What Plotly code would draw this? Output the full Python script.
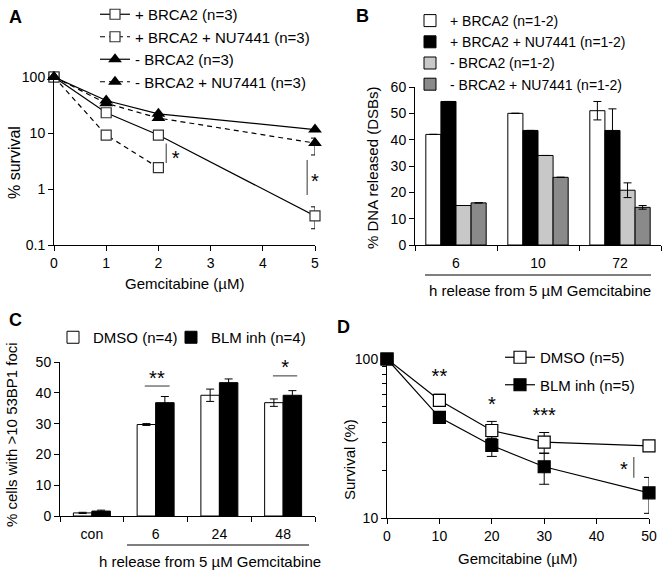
import plotly.graph_objects as go

W, H = 668, 575
def PX(x): return x / W
def PY(y): return 1 - y / H

FONT = "Liberation Sans, Arial, sans-serif"

# ---------------- Panel A data ----------------
a_dose = [0, 1, 2, 5]
a_dose_nu = [0, 1, 2]
a_brca = [100, 23, 9.2, 0.33]
a_brca_ep = [0, 0, 0, 0.15]
a_brca_em = [0, 0, 0, 0.135]
a_brca_nu = [100, 9.2, 2.4]
a_nobrca = [100, 38, 22, 11.5]
a_nobrca_nu = [100, 34, 18.5, 6.6]
a_nobrca_nu_ep = [0, 0, 0, 1.5]
a_nobrca_nu_em = [0, 0, 0, 2.55]
a_names = ["+ BRCA2 (n=3)", "+ BRCA2 + NU7441 (n=3)", "- BRCA2 (n=3)", "- BRCA2 + NU7441 (n=3)"]

# ---------------- Panel B data ----------------
b_cats = ["6", "10", "72"]
b_names = ["+ BRCA2 (n=1-2)", "+ BRCA2 + NU7441 (n=1-2)", "- BRCA2 (n=1-2)", "- BRCA2 + NU7441 (n=1-2)"]
b_vals = [[42, 50, 51], [54.5, 43.5, 43.5], [15, 34, 20.8], [16, 25.7, 14.3]]
b_errs = [[None, None, 3.5], [None, None, 8.2], [None, None, 2.8], [None, None, 0.7]]
b_colors = ["#ffffff", "#000000", "#c8c8c8", "#8a8a8a"]

# ---------------- Panel C data ----------------
c_cats = ["con", "6", "24", "48"]
c_dmso = [1.0, 29.7, 39.2, 36.8]
c_dmso_err = [0.2, 0.3, 2.0, 1.2]
c_blm = [1.6, 36.8, 43.3, 39.2]
c_blm_err = [0.3, 2.0, 1.2, 1.5]
c_names = ["DMSO (n=4)", "BLM inh (n=4)"]

# ---------------- Panel D data ----------------
d_dose = [0, 10, 20, 30, 50]
d_dmso = [100, 55, 35.5, 30, 28.4]
d_dmso_ep = [0, 5, 5, 4.5, 0.8]
d_dmso_em = [0, 4, 4, 4.5, 0.8]
d_blm = [100, 43, 28.6, 21, 14.4]
d_blm_ep = [0, 3, 3.2, 4.6, 3.6]
d_blm_em = [0, 3.5, 4.2, 4.7, 3.7]
d_names = ["DMSO (n=5)", "BLM inh (n=5)"]

fig = go.Figure()

def err(p, m, w=4):
    return dict(type="data", array=p, arrayminus=m, visible=True, color="black", thickness=1, width=w)

# ---- A traces ----
fig.add_trace(go.Scatter(x=a_dose, y=a_brca, name=a_names[0], mode="lines+markers",
    line=dict(color="black", width=1.2),
    marker=dict(symbol="square", size=10, color="white", line=dict(color="#333", width=1.2)),
    error_y=err(a_brca_ep, a_brca_em), cliponaxis=False, legend="legend", xaxis="x", yaxis="y"))
fig.add_trace(go.Scatter(x=a_dose_nu, y=a_brca_nu, name=a_names[1], mode="lines+markers",
    line=dict(color="black", width=1.2, dash="5px,4px"),
    marker=dict(symbol="square", size=10, color="white", line=dict(color="#333", width=1.2)),
    cliponaxis=False, legend="legend", xaxis="x", yaxis="y"))
fig.add_trace(go.Scatter(x=a_dose, y=a_nobrca, name=a_names[2], mode="lines+markers",
    line=dict(color="black", width=1.2),
    marker=dict(symbol="triangle-up", size=12, color="black"),
    cliponaxis=False, legend="legend", xaxis="x", yaxis="y"))
fig.add_trace(go.Scatter(x=a_dose, y=a_nobrca_nu, name=a_names[3], mode="lines+markers",
    line=dict(color="black", width=1.2, dash="5px,4px"),
    marker=dict(symbol="triangle-up", size=12, color="black"),
    error_y=err(a_nobrca_nu_ep, a_nobrca_nu_em), cliponaxis=False, legend="legend", xaxis="x", yaxis="y"))
# significance A
a_sig_x = [2.15, 2.15]
a_sig_y = [6.5, 2.9]
a_sig2_x = [4.85, 4.85]
a_sig2_y = [3.3, 0.78]
fig.add_trace(go.Scatter(x=a_sig_x, y=a_sig_y, mode="lines", line=dict(color="#555", width=1.2),
    showlegend=False, hoverinfo="skip", xaxis="x", yaxis="y"))
fig.add_trace(go.Scatter(x=a_sig2_x, y=a_sig2_y, mode="lines", line=dict(color="#555", width=1.2),
    showlegend=False, hoverinfo="skip", xaxis="x", yaxis="y"))
fig.add_trace(go.Scatter(x=[2.33, 5.0], y=[3.3, 1.3], mode="text", text=["*", "*"],
    textfont=dict(size=20, color="black", family=FONT), showlegend=False, hoverinfo="skip",
    cliponaxis=False, xaxis="x", yaxis="y"))

# ---- B traces ----
bw = 0.184
b_x = [0, 1, 2]
for i in range(4):
    fig.add_trace(go.Bar(x=b_x, y=b_vals[i], name=b_names[i], width=bw, offset=(i - 2) * bw,
        marker=dict(color=b_colors[i], line=dict(color="black", width=1)),
        error_y=dict(type="data", array=b_errs[i], visible=True, color="black", thickness=1, width=4),
        legend="legend2", xaxis="x2", yaxis="y2"))

# ---- C traces ----
cw = 0.29
c_x = [0, 1, 2, 3]
fig.add_trace(go.Bar(x=c_x, y=c_dmso, name=c_names[0], width=cw, offset=-cw,
    marker=dict(color="white", line=dict(color="black", width=1)),
    error_y=dict(type="data", array=c_dmso_err, visible=True, color="black", thickness=1, width=4),
    legend="legend3", xaxis="x3", yaxis="y3"))
fig.add_trace(go.Bar(x=c_x, y=c_blm, name=c_names[1], width=cw, offset=0,
    marker=dict(color="black", line=dict(color="black", width=1)),
    error_y=dict(type="data", array=c_blm_err, visible=True, color="black", thickness=1, width=4),
    legend="legend5", xaxis="x3", yaxis="y3"))
c_sig_lines = [([0.83, 1.22], [42.2, 42.2]), ([2.84, 3.22], [45.5, 45.5])]
for xs, ys in c_sig_lines:
    fig.add_trace(go.Scatter(x=xs, y=ys, mode="lines", line=dict(color="#555", width=1.2),
        showlegend=False, hoverinfo="skip", xaxis="x3", yaxis="y3"))
fig.add_trace(go.Scatter(x=[1.02, 3.03], y=[44.2, 47.8], mode="text", text=["**", "*"],
    textfont=dict(size=20, color="black", family=FONT), showlegend=False, hoverinfo="skip",
    cliponaxis=False, xaxis="x3", yaxis="y3"))

# ---- D traces ----
fig.add_trace(go.Scatter(x=d_dose, y=d_dmso, name=d_names[0], mode="lines+markers",
    line=dict(color="black", width=1.2),
    marker=dict(symbol="square", size=12, color="white", line=dict(color="black", width=1.2)),
    error_y=err(d_dmso_ep, d_dmso_em, 5), cliponaxis=False, legend="legend4", legendgroup="g1",
    xaxis="x4", yaxis="y4"))
fig.add_trace(go.Scatter(x=d_dose, y=d_blm, name=d_names[1], mode="lines+markers",
    line=dict(color="black", width=1.2),
    marker=dict(symbol="square", size=12, color="black", line=dict(color="black", width=1.2)),
    error_y=err(d_blm_ep, d_blm_em, 5), cliponaxis=False, legend="legend4", legendgroup="g2",
    xaxis="x4", yaxis="y4"))
fig.add_trace(go.Scatter(x=[47.1, 47.1], y=[24.2, 17.9], mode="lines", line=dict(color="#555", width=1.2),
    showlegend=False, hoverinfo="skip", xaxis="x4", yaxis="y4"))
fig.add_trace(go.Scatter(x=[10, 20, 30, 45.2], y=[76, 51, 43, 19.8], mode="text",
    text=["**", "*", "***", "*"],
    textfont=dict(size=20, color="black", family=FONT), showlegend=False, hoverinfo="skip",
    cliponaxis=False, xaxis="x4", yaxis="y4"))

# ---------------- layout ----------------
tickfont = dict(size=14, color="black", family=FONT)
base = dict(showline=True, linecolor="black", linewidth=1, ticks="outside", ticklen=5,
            tickcolor="black", showgrid=False, zeroline=False, tickfont=tickfont)

def minor_bounds(vals):
    return dict(tickvals=vals, ticks="outside", ticklen=5, tickcolor="black", showgrid=False)

layout = dict(
    width=W, height=H, margin=dict(l=0, r=0, t=0, b=0, autoexpand=False),
    paper_bgcolor="white", plot_bgcolor="white",
    font=dict(family=FONT, size=15, color="black"),
    barmode="overlay", showlegend=True,
    xaxis=dict(base, domain=[PX(54), PX(315)], range=[0, 5], tickvals=[0, 1, 2, 3, 4, 5], anchor="y"),
    yaxis=dict(base, domain=[PY(245), PY(77)], type="log", range=[-1, 2],
               tickvals=[0.1, 1, 10, 100], ticktext=["0.1", "1", "10", "100"], anchor="x"),
    xaxis2=dict(base, domain=[PX(415), PX(661)], range=[-0.5, 2.5], tickvals=b_x, ticktext=b_cats,
                tickcolor="rgba(0,0,0,0)", minor=minor_bounds([-0.5, 0.5, 1.5, 2.5]), anchor="y2"),
    yaxis2=dict(base, domain=[PY(245), PY(87)], range=[0, 60], dtick=10, anchor="x2"),
    xaxis3=dict(base, domain=[PX(60), PX(315)], range=[-0.5, 3.5], tickvals=c_x, ticktext=c_cats,
                tickcolor="rgba(0,0,0,0)", minor=minor_bounds([-0.5, 0.5, 1.5, 2.5, 3.5]), anchor="y3"),
    yaxis3=dict(base, domain=[PY(516), PY(362)], range=[0, 50], dtick=10, anchor="x3"),
    xaxis4=dict(base, domain=[PX(387), PX(649)], range=[0, 50], dtick=10, anchor="y4"),
    yaxis4=dict(base, domain=[PY(518), PY(359)], type="log", range=[1, 2],
                tickvals=[10, 100], ticktext=["10", "100"],
                minor=dict(tickvals=[20, 30, 40, 50, 60, 70, 80, 90], ticks="outside", ticklen=4,
                           tickcolor="black", showgrid=False), anchor="x4"),
    legend=dict(x=PX(95), y=PY(-2), xanchor="left", yanchor="top", bgcolor="rgba(0,0,0,0)",
                font=dict(size=15, family=FONT), traceorder="normal"),
    legend2=dict(x=PX(410), y=PY(5), xanchor="left", yanchor="top", bgcolor="rgba(0,0,0,0)",
                 font=dict(size=14, family=FONT), traceorder="normal"),
    legend3=dict(x=PX(53), y=PY(321), xanchor="left", yanchor="top", bgcolor="rgba(0,0,0,0)",
                 font=dict(size=15, family=FONT)),
    legend5=dict(x=PX(171), y=PY(321), xanchor="left", yanchor="top", bgcolor="rgba(0,0,0,0)",
                 font=dict(size=15, family=FONT)),
    legend4=dict(x=PX(500), y=PY(341), xanchor="left", yanchor="top", bgcolor="rgba(0,0,0,0)",
                 font=dict(size=15, family=FONT), traceorder="grouped", tracegroupgap=5),
)
fig.update_layout(**layout)

# underline bars for "h release" groups
fig.add_shape(type="line", xref="paper", yref="paper", x0=PX(425), x1=PX(651), y0=PY(275), y1=PY(275),
              line=dict(color="black", width=1))
fig.add_shape(type="line", xref="paper", yref="paper", x0=PX(127), x1=PX(309), y0=PY(545), y1=PY(545),
              line=dict(color="black", width=1))

def ann(text, x, y, size=15, angle=0, bold=False):
    fig.add_annotation(text=("<b>%s</b>" % text) if bold else text, x=PX(x), y=PY(y), xref="paper", yref="paper",
                       showarrow=False, textangle=angle, xanchor="center", yanchor="middle",
                       font=dict(size=size, color="black", family=FONT))

# panel letters
ann("A", 15, 17, 18, bold=True)
ann("B", 362, 16, 18, bold=True)
ann("C", 15, 320, 18, bold=True)
ann("D", 344, 327, 18, bold=True)
# axis titles
ann("% survival", 15, 163, size=16, angle=-90)
ann("Gemcitabine (µM)", 185, 284)
ann("% DNA released (DSBs)", 372, 167, angle=-90)
ann("h release from 5 µM Gemcitabine", 540, 290)
ann("% cells with >10 53BP1 foci", 11, 435, angle=-90)
ann("h release from 5 µM Gemcitabine", 210, 561)
ann("Survival (%)", 349, 460, angle=-90)
ann("Gemcitabine (µM)", 518, 558)

fig.write_html("out.html", config={"displayModeBar": False},
               post_script="document.body.style.margin='0px';document.body.style.overflow='hidden';")
